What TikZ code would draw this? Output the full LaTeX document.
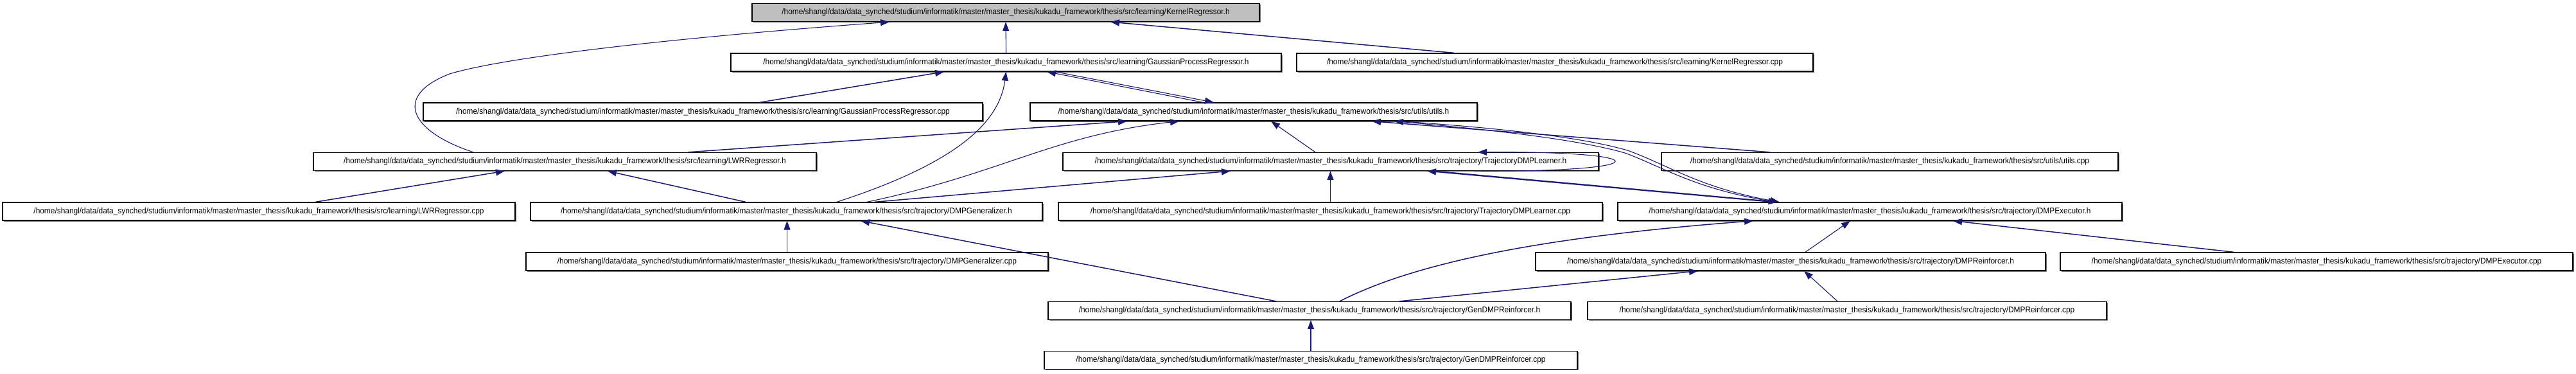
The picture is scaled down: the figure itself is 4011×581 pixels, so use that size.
\documentclass[tikz,border=0pt]{standalone}
\usepackage{fontspec}
\setmainfont{Liberation Sans}[FakeStretch=0.93]
\usetikzlibrary{arrows.meta,shadows}
\definecolor{edgeblue}{HTML}{191970}
\newcommand{\pfx}{/home/shangl/data/data\_synched/studium/informatik/master/master\_thesis/kukadu\_framework/thesis/src}
\begin{document}
\begin{tikzpicture}[x=1pt,y=-1pt,
  box/.style={draw=black, line width=1.3pt, fill=white, minimum height=28pt, inner sep=0pt,
    font=\fontsize{12.8}{14}\selectfont, text=black,
    drop shadow={shadow xshift=1.6pt, shadow yshift=-1.6pt, fill=black!55, opacity=1}},
  dep/.style={draw=edgeblue, line width=1.5pt, -{Triangle[length=14pt,width=10pt]}},
  thin dep/.style={dep, line width=1.1pt}]
\useasboundingbox (0,0) rectangle (4011,581);
% nodes
\node[box, fill=black!25, minimum width=790pt] (kr) at (1566,19.5) {\pfx/learning/KernelRegressor.h};
\node[box, minimum width=857pt] (gpr) at (1566.5,97) {\pfx/learning/GaussianProcessRegressor.h};
\node[box, minimum width=804pt] (krcpp) at (2421,97) {\pfx/learning/KernelRegressor.cpp};
\node[box, minimum width=871pt] (gprcpp) at (1094.5,174) {\pfx/learning/GaussianProcessRegressor.cpp};
\node[box, minimum width=696pt] (utils) at (1952,174) {\pfx/utils/utils.h};
\node[box, minimum width=783pt] (lwr) at (879.5,251.5) {\pfx/learning/LWRRegressor.h};
\node[box, minimum width=834pt] (tdl) at (2072,251.5) {\pfx/trajectory/TrajectoryDMPLearner.h};
\node[box, minimum width=711pt] (utilscpp) at (2942.5,251.5) {\pfx/utils/utils.cpp};
\node[box, minimum width=798pt] (lwrcpp) at (403,329) {\pfx/learning/LWRRegressor.cpp};
\node[box, minimum width=797pt] (dgen) at (1224.5,329) {\pfx/trajectory/DMPGeneralizer.h};
\node[box, minimum width=847pt] (tdlcpp) at (2071.5,329) {\pfx/trajectory/TrajectoryDMPLearner.cpp};
\node[box, minimum width=785pt] (dexec) at (2911.5,329) {\pfx/trajectory/DMPExecutor.h};
\node[box, minimum width=813pt] (dgencpp) at (1225.5,407) {\pfx/trajectory/DMPGeneralizer.cpp};
\node[box, minimum width=794pt] (drein) at (2788,407) {\pfx/trajectory/DMPReinforcer.h};
\node[box, minimum width=798pt] (dexeccpp) at (3607,407) {\pfx/trajectory/DMPExecutor.cpp};
\node[box, minimum width=814pt] (gdrein) at (2039,483.5) {\pfx/trajectory/GenDMPReinforcer.h};
\node[box, minimum width=808pt] (dreincpp) at (2876,483.5) {\pfx/trajectory/DMPReinforcer.cpp};
\node[box, minimum width=830pt] (gdreincpp) at (2041,560.5) {\pfx/trajectory/GenDMPReinforcer.cpp};
% edges
\draw[thin dep] (gpr.north) -- (kr.south);
\draw[dep] ([xshift=-157pt]krcpp.north) -- ([xshift=163pt]kr.south);
\draw[thin dep] ([xshift=-142.5pt]lwr.north) .. controls (640,205) and (610,150) .. (700,115)
   .. controls (800,85) and (1100,55) .. ([xshift=-181pt]kr.south);
\draw[dep] ([xshift=88.5pt]gprcpp.north) -- ([xshift=-96.5pt]gpr.south);
\draw[thin dep] ([xshift=-79pt]utils.north) -- ([xshift=63.5pt]gpr.south);
\draw[thin dep] ([xshift=76.5pt]gpr.south) -- ([xshift=-62pt]utils.north);
\draw[thin dep] ([xshift=78.5pt]dgen.north) .. controls (1470,260) and (1555,200) .. (gpr.south);
\draw[dep] ([xshift=191.5pt]lwr.north) -- ([xshift=-197pt]utils.south);
\draw[thin dep] ([xshift=125.5pt]dgen.north) .. controls (1560,270) and (1640,210) .. ([xshift=-116pt]utils.south);
\draw[dep] ([xshift=137.5pt]dgen.north) -- ([xshift=-156pt]tdl.south);
\draw[thin dep] ([xshift=-24pt]tdl.north) -- ([xshift=27pt]utils.south);
\draw[thin dep] ([xshift=224pt]tdl.south) .. controls (2585,268) and (2585,235) .. ([xshift=229pt]tdl.north);
\draw[dep] ([xshift=-186.5pt]utilscpp.north) -- ([xshift=184pt]utils.south);
\draw[thin dep] ([xshift=-146.5pt]dexec.north) .. controls (2640,295) and (2590,260) .. (2530,238)
   .. controls (2450,215) and (2300,200) .. ([xshift=219pt]utils.south);
\draw[thin dep] ([xshift=226pt]utils.south) .. controls (2305,197) and (2455,211) .. (2534,234)
   .. controls (2596,256) and (2646,292) .. ([xshift=-141pt]dexec.north);
\draw[dep] ([xshift=-151pt]dexec.north) -- ([xshift=150pt]tdl.south);
\draw[dep] ([xshift=160pt]tdl.south) -- ([xshift=-144pt]dexec.north);
\draw[dep] ([xshift=47pt]gdrein.north) .. controls (2220,400) and (2450,365) .. ([xshift=-181.5pt]dexec.south);
\draw[thin dep] ([xshift=23pt]drein.north) -- ([xshift=-30.5pt]dexec.south);
\draw[dep] ([xshift=-129pt]dexeccpp.north) -- ([xshift=129.5pt]dexec.south);
\draw[dep] ([xshift=-52pt]gdrein.north) -- ([xshift=115.5pt]dgen.south);
\draw[dep] ([xshift=140pt]gdrein.north) -- ([xshift=-144pt]drein.south);
\draw[thin dep] (gdreincpp.north) -- (gdreincpp.north |- gdrein.south);
\draw[thin dep] ([xshift=-15pt]dreincpp.north) -- ([xshift=21pt]drein.south);
\draw[thin dep] (dgencpp.north) -- (dgencpp.north |- dgen.south);
\draw[dep] ([xshift=88pt]lwrcpp.north) -- ([xshift=-93.5pt]lwr.south);
\draw[dep] ([xshift=-63.5pt]dgen.north) -- ([xshift=66.5pt]lwr.south);
\draw[thin dep] (tdlcpp.north) -- (tdlcpp.north |- tdl.south);
\end{tikzpicture}
\end{document}
